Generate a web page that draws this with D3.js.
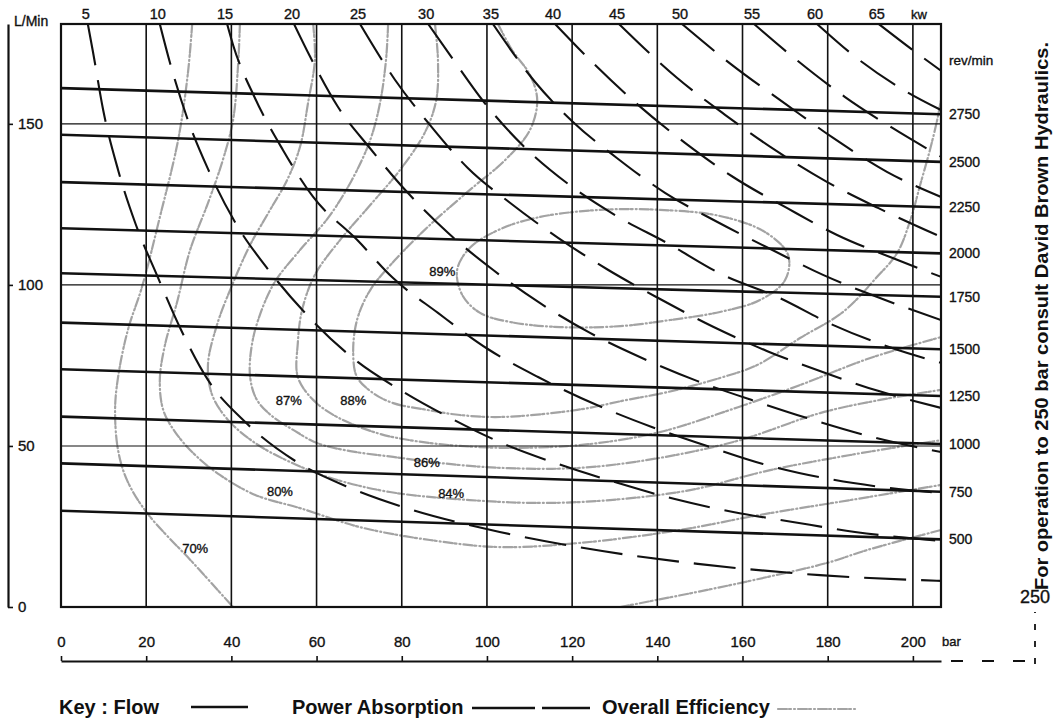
<!DOCTYPE html>
<html><head><meta charset="utf-8">
<script src="https://cdn.jsdelivr.net/npm/d3@7"></script>
<style>
html,body{margin:0;padding:0;background:#fff;}
svg{display:block;font-family:"Liberation Sans",Arial,Helvetica,sans-serif;}
</style></head><body>
<svg id="chart" width="1057" height="724"></svg>
<script>
// ---------- data ----------
const pressureTicks = [0,20,40,60,80,100,120,140,160,180,200];
const flowTicks = [0,50,100,150];
const gridFlows = [50,100,150];
const speedLabels = [500,750,1000,1250,1500,1750,2000,2250,2500,2750];
const flowAtZeroBar = [29.9,44.6,59.1,73.8,88.3,103.6,117.6,131.9,146.6,161.1];
const flowAtMaxBar  = [21.0,35.8,50.6,65.5,80.0,96.3,109.8,124.1,138.2,153.0];
const powerLabels = [5,10,15,20,25,30,35,40,45,50,55,60,65];
// power absorption lines [bar, L/min]
const power5  = [[6.3,181],[7.5,172.4],[9.9,154.3],[13.4,135.7],[17.6,118.6],[22.5,103.1],[28.2,86],[34.5,70.5],[43.2,57.5],[55.4,45],[67.8,37],[80.8,30.8],[103,23.3],[121.4,18.6],[149.5,13.4],[178.2,9.9],[206.6,8.1]];
const power10 = [[23.2,181],[25.6,168.9],[29.6,151.9],[34.5,136],[40.8,119.6],[49.1,104],[57.3,91.3],[68.5,77.3],[79.6,67.4],[91.8,58.4],[103,51.2],[116.7,44.4],[130.8,38.5],[144.1,33.5],[157.8,29.5],[171.8,26.4],[186.4,23.3],[206.6,20.5]];
const power15 = [[39,181],[40.4,174.5],[45.5,158.1],[52.1,141.9],[59.2,127.3],[69.5,114],[77.9,102.2],[88.5,91.3],[100.2,80.1],[112,71.4],[125.8,62.7],[138.7,55.9],[152.3,49.7],[164.8,44.4],[178.9,40.1],[192.3,37.3],[206.6,35.4]];
const power20 = [[54.7,181],[58.5,170.8],[65,155.3],[72.5,142.5],[81.2,128.9],[90.9,116.1],[101.4,104.7],[112.4,94.4],[124.2,85.1],[136.4,77.3],[149.3,70.2],[163.4,63.7],[176.5,58.1],[190.4,52.8],[206.6,48.1]];
const power25 = [[70.2,181],[78.4,163.7],[86.6,149.7],[95.5,136.3],[105.4,125.5],[116.7,114.6],[128.4,104.7],[140.1,96],[153.1,87],[165.7,79.5],[179.3,72.7],[191.8,67.1],[206.6,61.8]];
const power30 = [[86.2,181],[91.8,170.5],[99.1,157.1],[108.5,143.2],[119,131.4],[130.8,121.1],[142.3,113],[155.4,103.1],[168.1,96.3],[181.2,87.6],[195.1,80.4],[206.6,75.8]];
const power35 = [[101.4,181],[111.3,163],[120.2,150.6],[130.5,139.4],[141.8,128.6],[154,119.6],[166.9,110.9],[178.9,103.1],[191.5,96.3],[206.6,89.1]];
const power40 = [[116,181],[124.9,168.9],[135.2,156.2],[146.5,144.1],[157.8,133.5],[170.4,123.9],[182.2,115.5],[195.1,108.4],[206.6,102.5]];
const power45 = [[131,181],[144.6,164.3],[155.9,152.8],[167.6,141.9],[179.8,132],[191.8,123.9],[206.6,114.9]];
const power50 = [[145.8,181],[157.5,168.3],[170.4,155.9],[181.2,145.7],[193.9,135.1],[206.6,127.3]];
const power55 = [[162.7,181],[171.8,170.8],[184,158.4],[195.1,148.8],[206.6,139.8]];
const power60 = [[177.5,181],[185.9,171.4],[197.7,160.6],[206.6,154.3]];
const power65 = [[192,181],[200.9,172],[206.6,166.5]];
// overall efficiency contours [bar, L/min]
const eff70  = [[30.8,181],[29.8,165.8],[27.5,145],[23.2,121],[19,99.3],[15.7,86],[13.4,71.4],[12.7,61.2],[13.4,48.7],[15.5,39.4],[20.2,29.2],[31,13.7],[40.4,0]];
const eff70b = [[131.3,0],[151.7,5.3],[165.8,9.3],[179.9,13.7],[189.3,17.7],[206.6,23.9]];
const eff80  = [[42,181],[41.6,168.9],[40.4,151.2],[38,138.8],[34.5,125.4],[30.3,110.8],[27.2,94.4],[24.4,81.3],[23.2,70.5],[24,61.2],[26.8,54.3],[31.5,47.2],[37.3,41],[45.6,34.8],[56.1,30.7],[70.2,24.8],[86.6,20.8],[103.1,18.6],[121.9,19.9],[145.3,23.9],[164.1,28.6],[185.3,33.2],[206.6,37.9]];
const eff84  = [[59.2,181],[59.6,169.8],[58,156.5],[56.1,142.8],[53.1,132.6],[49.1,123.3],[44.4,112.4],[40.2,100],[36.6,87.5],[34.5,75.1],[35.5,65.8],[39.2,58.1],[45.6,50.9],[53.8,45],[63.2,40.1],[77.2,35.7],[96,33.2],[112.5,32.3],[128.9,33.2],[147.7,36.3],[166.5,42.5],[185.3,47.2],[206.6,51.8]];
const eff86  = [[76.8,181],[76.3,169.8],[74.9,156.5],[72.6,145],[68.3,132.6],[62.7,120.8],[56.1,110.8],[50.2,100.9],[46.7,90.7],[44.8,81.3],[44.4,71.4],[46,64.3],[49.8,59],[54.5,55],[60.1,50.9],[67.9,48.4],[78,46.6],[89,44.7],[103.1,43.2],[121.9,43.2],[140.6,46.3],[159.4,51.8],[178.2,60.2],[192.3,64.3],[206.6,67.4]];
const eff87  = [[87.8,181],[88.5,169.8],[88.1,157.4],[85.5,147.5],[79.6,135.7],[72.6,124.8],[65.5,113.9],[59.6,103.1],[56.6,92.2],[55.6,82],[55.6,71.4],[59.2,64.3],[64.8,59],[74.2,54],[81.9,51.8],[93.7,50],[107.8,49.4],[124.2,50.6],[140.6,54.3],[157.1,61.2],[173.5,68.9],[190,77.3],[206.6,83.8]];
const eff88  = [[102.6,181],[105.9,172.9],[110.1,165.2],[111.8,157.4],[110.1,148.1],[104.3,138.8],[96,129.5],[86.6,118.6],[78.4,107.7],[72.6,98.4],[69.5,89.1],[68.6,78.9],[69.5,71.4],[73.3,66.4],[78,63.3],[85.9,61.2],[93.7,59.6],[103.5,59],[121.2,61.2],[132.9,64.3],[142.3,66.7],[154.7,71.1],[163.4,75.1],[173.5,83.5],[183.6,91.6],[191.6,102.5],[196.3,109.9],[199.4,120.1],[201.7,131],[204,141.9],[205.7,151.2],[206.6,157.4]];
const eff89  = [[103.1,117.3],[112.5,121.1],[126.6,123.3],[140.6,123.3],[154.7,121.4],[165.3,116.4],[170.7,109.3],[170,101.5],[164.1,95.3],[154.7,91.6],[143,89.1],[131.3,87.2],[117.2,86.9],[105.4,88.5],[98.4,91.3],[94.2,96.9],[93,104.6],[96,111.5]];
const effLabels = ["70%","80%","84%","86%","87%","88%","89%"];
const effLabelBar  = [31.5,51.4,91.6,85.9,53.5,68.6,89.5];
const effLabelFlow = [18.3,36.0,35.1,45.0,64.0,64.0,104.3];

// ---------- layout ----------
const M = {left:61, right:941, top:24, bottom:607};
const xMax = 206.6, yMax = 181;
const x = d3.scaleLinear().domain([0,xMax]).range([M.left,M.right]);
const y = d3.scaleLinear().domain([0,yMax]).range([M.bottom,M.top]);
const svg = d3.select("#chart");
const ink = "#111";
const heavy = sel => sel.attr("stroke",ink).attr("stroke-width",0.35);

svg.append("defs").append("clipPath").attr("id","plotclip").append("rect")
  .attr("x",M.left).attr("y",M.top).attr("width",M.right-M.left).attr("height",M.bottom-M.top);

const plot = svg.append("g").attr("clip-path","url(#plotclip)");

// efficiency contours
const effOpen = [eff70, eff70b, eff80, eff84, eff86, eff87, eff88];
const effLine = d3.line().x(d=>x(d[0])).y(d=>y(d[1])).curve(d3.curveCatmullRom.alpha(0.5));
const effClosed = d3.line().x(d=>x(d[0])).y(d=>y(d[1])).curve(d3.curveCatmullRomClosed.alpha(0.5));
const effStyle = sel => sel.attr("fill","none").attr("stroke","#a3a3a3").attr("stroke-width",2.2)
  .attr("stroke-dasharray","9,2,2,3,1,3").attr("stroke-linecap","round");
plot.selectAll("path.eff").data(effOpen).join("path").attr("class","eff").attr("d",effLine).call(effStyle);
plot.append("path").datum(eff89).attr("d",effClosed).call(effStyle);

// grid
plot.selectAll("line.vg").data(pressureTicks.filter(d=>d>0)).join("line").attr("class","vg")
  .attr("x1",d=>x(d)).attr("x2",d=>x(d)).attr("y1",M.top).attr("y2",M.bottom)
  .attr("stroke",ink).attr("stroke-width",1.6);
plot.selectAll("line.hg").data(gridFlows).join("line").attr("class","hg")
  .attr("x1",M.left).attr("x2",M.right).attr("y1",d=>y(d)).attr("y2",d=>y(d))
  .attr("stroke",ink).attr("stroke-width",1.1);

// flow lines
plot.selectAll("line.flow").data(speedLabels).join("line").attr("class","flow")
  .attr("x1",x(0)).attr("x2",x(xMax))
  .attr("y1",(d,i)=>y(flowAtZeroBar[i])).attr("y2",(d,i)=>y(flowAtMaxBar[i]))
  .attr("stroke",ink).attr("stroke-width",2.6);

// power absorption lines
const powerCurves = [power5,power10,power15,power20,power25,power30,power35,power40,power45,power50,power55,power60,power65];
const pLine = d3.line().x(d=>x(d[0])).y(d=>y(d[1])).curve(d3.curveMonotoneX);
plot.selectAll("path.pw").data(powerCurves).join("path").attr("class","pw")
  .attr("d",pLine).attr("fill","none").attr("stroke",ink).attr("stroke-width",2.1)
  .attr("stroke-dasharray","42,15");

// frame
svg.append("rect").attr("x",M.left).attr("y",M.top).attr("width",M.right-M.left).attr("height",M.bottom-M.top)
  .attr("fill","none").attr("stroke",ink).attr("stroke-width",2.2);

// efficiency labels
svg.selectAll("text.effl").data(effLabels).join("text").attr("class","effl")
  .attr("x",(d,i)=>x(effLabelBar[i])).attr("y",(d,i)=>y(effLabelFlow[i])).attr("dy","0.35em")
  .attr("text-anchor","middle").attr("font-size",13).attr("fill",ink).call(heavy).text(d=>d);

// top kW labels
svg.selectAll("text.kw").data(powerLabels).join("text").attr("class","kw")
  .attr("x",(d,i)=>x(powerCurves[i][0][0])-2).attr("y",M.top-5)
  .attr("text-anchor","middle").attr("font-size",14.5).attr("fill",ink).call(heavy).text(d=>d);
svg.append("text").attr("x",M.right-22).attr("y",M.top-5).attr("text-anchor","middle")
  .attr("font-size",13).attr("fill",ink).call(heavy).text("kw");

// right speed labels
svg.selectAll("text.spd").data(speedLabels).join("text").attr("class","spd")
  .attr("x",M.right+8).attr("y",(d,i)=>y(flowAtMaxBar[i])).attr("dy","0.35em")
  .attr("font-size",14).attr("fill",ink).call(heavy).text(d=>d);
svg.append("text").attr("x",M.right+8).attr("y",y(flowAtMaxBar[9])-54).attr("dy","0.35em")
  .attr("font-size",13.5).attr("fill",ink).call(heavy).text("rev/min");

// left axis
const leftAxis = d3.axisRight(y).tickValues(flowTicks).tickSize(5).tickSizeOuter(0).tickPadding(5);
const gL = svg.append("g").attr("transform","translate(8,0)").call(leftAxis)
  .attr("font-size",15).attr("font-family",null);
gL.select(".domain").attr("stroke",ink).attr("stroke-width",2.2);
gL.selectAll(".tick line").attr("stroke",ink).attr("stroke-width",1.6);
gL.selectAll(".tick text").attr("fill",ink).call(heavy);
svg.append("text").attr("x",14).attr("y",M.top+2).attr("font-size",14).attr("fill",ink).call(heavy).text("L/Min");

// bottom axis
const axisY = 661;
const bottomAxis = d3.axisTop(x).tickValues(pressureTicks).tickSize(5).tickSizeOuter(0).tickPadding(9);
const gB = svg.append("g").attr("transform",`translate(0,${axisY})`).call(bottomAxis)
  .attr("font-size",15).attr("font-family",null);
gB.select(".domain").attr("stroke",ink).attr("stroke-width",2);
gB.selectAll(".tick line").attr("stroke",ink).attr("stroke-width",1.6);
gB.selectAll(".tick text").attr("fill",ink).call(heavy);
svg.append("text").attr("x",M.right+1).attr("y",axisY-15).attr("font-size",13).attr("fill",ink).call(heavy).text("bar");

// broken axis extension to 250 bar
const extX = 1035;
svg.append("line").attr("x1",M.right).attr("x2",extX).attr("y1",axisY).attr("y2",axisY)
  .attr("stroke",ink).attr("stroke-width",2).attr("stroke-dasharray","0,10,12,9");
svg.append("line").attr("x1",extX).attr("x2",extX).attr("y1",axisY+3).attr("y2",axisY-49)
  .attr("stroke",ink).attr("stroke-width",1.8).attr("stroke-dasharray","6,11");
svg.append("text").attr("x",extX).attr("y",axisY-58).attr("text-anchor","middle")
  .attr("font-size",18).attr("fill",ink).call(heavy).text("250");

// vertical note
svg.append("text").attr("transform",`translate(1048,316) rotate(-90)`)
  .attr("text-anchor","middle").attr("font-size",18.5).attr("font-weight","bold").attr("fill",ink)
  .attr("textLength",548).attr("lengthAdjust","spacingAndGlyphs")
  .text("For operation to 250 bar consult David Brown Hydraulics.");

// key
const keyY = 714;
const key = svg.append("g").attr("font-size",20).attr("font-weight","bold").attr("fill",ink);
key.append("text").attr("x",59).attr("y",keyY).text("Key : Flow");
key.append("text").attr("x",292).attr("y",keyY).text("Power Absorption");
key.append("text").attr("x",602).attr("y",keyY).text("Overall Efficiency");
svg.append("line").attr("x1",191).attr("x2",248).attr("y1",keyY-7).attr("y2",keyY-7).attr("stroke",ink).attr("stroke-width",2.6);
svg.append("line").attr("x1",472).attr("x2",535).attr("y1",keyY-6).attr("y2",keyY-6).attr("stroke",ink).attr("stroke-width",2.6);
svg.append("line").attr("x1",542).attr("x2",590).attr("y1",keyY-6).attr("y2",keyY-6).attr("stroke",ink).attr("stroke-width",2.6);
svg.append("line").attr("x1",778).attr("x2",858).attr("y1",keyY-5).attr("y2",keyY-5).call(effStyle);
</script>
</body></html>
